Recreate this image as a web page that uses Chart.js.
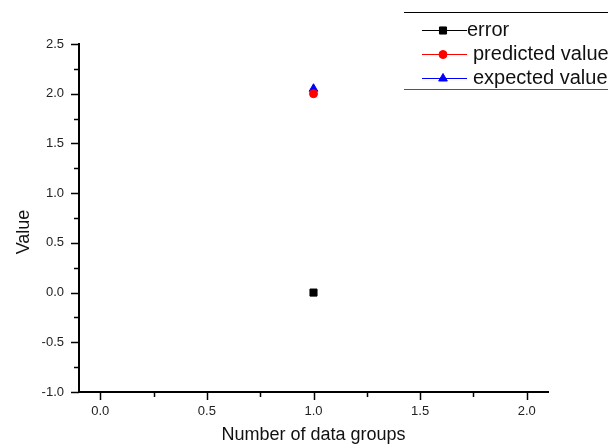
<!DOCTYPE html>
<html>
<head>
<meta charset="utf-8">
<script src="https://cdn.jsdelivr.net/npm/chart.js@4.4.0/dist/chart.umd.min.js"></script>
<style>
  body { margin: 0; background: #fff; }
  canvas { display: block; }
</style>
</head>
<body>
<canvas id="chart" width="608" height="445"></canvas>
<script>
// data
const groups = [1];
const errorValues = [0];
const predictedValues = [2.0];
const expectedValues = [2.05];
const seriesNames = ['error', 'predicted value', 'expected value'];

// axis ticks
const xMajorTicks = [0, 0.5, 1.0, 1.5, 2.0];
const yMajorTicks = [-1.0, -0.5, 0.0, 0.5, 1.0, 1.5, 2.0, 2.5];

const FONT = '"Liberation Sans", Arial, sans-serif';

function withMinors(majors) {
    // add a minor tick half way between the major ones
    const out = [];
    majors.forEach((v, i) => {
        out.push({ value: v, major: true });
        if (i < majors.length - 1) out.push({ value: (v + majors[i + 1]) / 2, major: false });
    });
    return out;
}

function toPoints(values) {
    return values.map((v, i) => ({ x: groups[i], y: v }));
}

// ticks pointing outwards, long for major, short for minor
const tickMarks = {
    id: 'tickMarks',
    afterDraw(chart) {
        const ctx = chart.ctx;
        const xs = chart.scales.x, ys = chart.scales.y;
        ctx.save();
        ctx.strokeStyle = '#000';
        ctx.lineWidth = 1.5;
        xs.ticks.forEach(t => {
            const px = Math.round(xs.getPixelForValue(t.value)) + 0.5;
            const len = t.major ? 8 : 5;
            ctx.beginPath();
            ctx.moveTo(px, chart.chartArea.bottom);
            ctx.lineTo(px, chart.chartArea.bottom + len);
            ctx.stroke();
        });
        ys.ticks.forEach(t => {
            const py = Math.round(ys.getPixelForValue(t.value)) + 0.5;
            const len = t.major ? 8 : 5;
            ctx.beginPath();
            ctx.moveTo(chart.chartArea.left, py);
            ctx.lineTo(chart.chartArea.left - len, py);
            ctx.stroke();
        });
        // y axis title, sits a little below the middle like the original
        ctx.save();
        ctx.translate(24, 232);
        ctx.rotate(-Math.PI / 2);
        ctx.fillStyle = '#111';
        ctx.font = '18px ' + FONT;
        ctx.textAlign = 'center';
        ctx.textBaseline = 'middle';
        ctx.fillText('Value', 0, 0);
        ctx.restore();
        ctx.restore();
    }
};

// origin-style legend box in the top right corner
const boxLegend = {
    id: 'boxLegend',
    afterDraw(chart) {
        const ctx = chart.ctx;
        ctx.save();
        ctx.lineWidth = 1;
        ctx.strokeStyle = '#000';
        ctx.beginPath();
        ctx.moveTo(404, 12.5); ctx.lineTo(608, 12.5);
        ctx.stroke();
        ctx.strokeStyle = '#555';
        ctx.beginPath();
        ctx.moveTo(404, 89.5); ctx.lineTo(608, 89.5);
        ctx.stroke();

        const rowY = [30, 54, 78];
        const textX = [467, 473, 473];
        chart.data.datasets.forEach((ds, i) => {
            const y = rowY[i] + 0.5;
            ctx.strokeStyle = ds.borderColor;
            ctx.lineWidth = 1;
            ctx.beginPath();
            ctx.moveTo(422, y); ctx.lineTo(467, y);
            ctx.stroke();
            ctx.fillStyle = ds.backgroundColor;
            ctx.strokeStyle = ds.borderColor;
            Chart.helpers.drawPoint(ctx, {
                pointStyle: ds.pointStyle,
                radius: ds.pointRadius,
                rotation: 0,
                borderWidth: 1
            }, 443, y);
            ctx.fillStyle = '#111';
            ctx.font = '20px ' + FONT;
            ctx.textBaseline = 'middle';
            ctx.fillText(ds.label, textX[i], rowY[i]);
        });
        ctx.restore();
    }
};

const chart = new Chart(document.getElementById('chart'), {
    type: 'scatter',
    data: {
        datasets: [{
            label: seriesNames[0],
            data: toPoints(errorValues),
            pointStyle: 'rect',
            pointRadius: 5,
            backgroundColor: '#000',
            borderColor: '#000'
        }, {
            label: seriesNames[1],
            data: toPoints(predictedValues),
            pointStyle: 'circle',
            pointRadius: 4,
            backgroundColor: '#ff0000',
            borderColor: '#ff0000'
        }, {
            label: seriesNames[2],
            data: toPoints(expectedValues),
            pointStyle: 'triangle',
            pointRadius: 5,
            backgroundColor: '#0000ff',
            borderColor: '#0000ff'
        }]
    },
    options: {
        responsive: false,
        animation: false,
        layout: { padding: { top: 44, right: 60, left: 0, bottom: 0 } },
        plugins: {
            legend: { display: false },
            tooltip: { enabled: false }
        },
        scales: {
            x: {
                type: 'linear',
                min: -0.1,
                max: 2.1,
                afterBuildTicks: s => { s.ticks = withMinors(xMajorTicks); },
                afterFit: s => { s.height = 53; },
                grid: { display: true, drawOnChartArea: false, drawTicks: false },
                border: { display: true, color: '#000', width: 2 },
                ticks: {
                    padding: 12,
                    color: '#222',
                    font: { family: FONT, size: 13 },
                    autoSkip: false,
                    maxRotation: 0,
                    callback: (v, i, ticks) => ticks[i].major ? v.toFixed(1) : ''
                },
                title: {
                    display: true,
                    text: 'Number of data groups',
                    color: '#111',
                    font: { family: FONT, size: 18, lineHeight: 1.1 },
                    padding: { top: 0, bottom: 0 }
                }
            },
            y: {
                type: 'linear',
                min: -1.0,
                max: 2.5,
                afterBuildTicks: s => { s.ticks = withMinors(yMajorTicks); },
                afterFit: s => { s.width = 79; },
                grid: { display: true, drawOnChartArea: false, drawTicks: false },
                border: { display: true, color: '#000', width: 2 },
                ticks: {
                    padding: 15,
                    color: '#222',
                    font: { family: FONT, size: 13 },
                    autoSkip: false,
                    callback: (v, i, ticks) => ticks[i].major ? v.toFixed(1) : ''
                },
                title: { display: false }
            }
        }
    },
    plugins: [tickMarks, boxLegend]
});
</script>
</body>
</html>
